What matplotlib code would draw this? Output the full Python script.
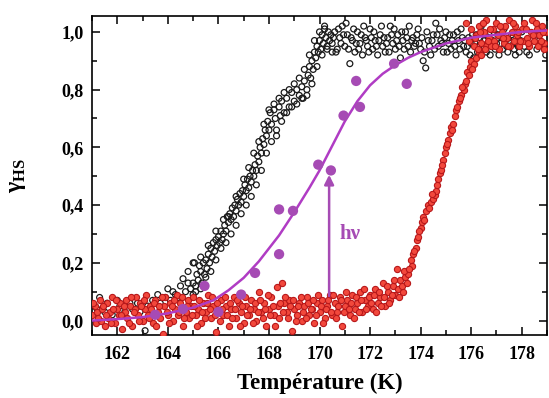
"""Spin-crossover fraction vs temperature with photo-excitation points."""
import matplotlib
matplotlib.use('Agg')
import matplotlib.pyplot as plt
from matplotlib.ticker import MultipleLocator, FuncFormatter

# black branch (open black circles), first sweep
black_T = [161.1, 161.2, 161.3, 161.5, 161.6, 161.8, 162.0, 162.1, 162.3, 162.5,
           162.6, 162.8, 162.9, 163.1, 163.2, 163.4, 163.6, 163.7, 163.9, 164.0,
           164.1, 164.2, 164.3, 164.4, 164.5, 164.6, 164.7, 164.8, 164.9, 165.0,
           165.0, 165.05, 165.1, 165.15, 165.2, 165.25, 165.3, 165.35, 165.4, 165.45,
           165.5, 165.55, 165.6, 165.65, 165.7, 165.75, 165.8, 165.85, 165.9, 165.95,
           166.0, 166.05, 166.1, 166.15, 166.2, 166.25, 166.3, 166.35, 166.4, 166.45,
           166.5, 166.55, 166.6, 166.65, 166.7, 166.75, 166.8, 166.85, 166.9, 166.95,
           167.0, 167.05, 167.1, 167.15, 167.2, 167.25, 167.3, 167.35, 167.4, 167.45,
           167.5, 167.55, 167.6, 167.65, 167.7, 167.75, 167.8, 167.85, 167.9, 167.95,
           168.0, 168.05, 168.1, 168.2, 168.25, 168.3, 168.4, 168.45, 168.5, 168.6,
           168.7, 168.8, 168.9, 169.0, 169.1, 169.2, 169.3, 169.35, 169.4, 169.5,
           169.55, 169.6, 169.65, 169.7, 169.75, 169.8, 169.85, 169.9, 169.95, 170.0,
           170.05, 170.1, 170.15, 170.2, 170.25, 170.3, 170.35, 170.4, 170.45,
           170.5, 170.6, 170.7, 170.8, 170.9, 171.0, 171.1, 171.2, 171.3, 171.4,
           171.5, 171.6, 171.7, 171.8, 171.9, 172.0, 172.1, 172.2, 172.3, 172.4,
           172.5, 172.6, 172.7, 172.8, 172.9, 173.0, 173.1, 173.2, 173.3, 173.4,
           173.5, 173.6, 173.7, 173.8, 173.9, 174.0, 174.1, 174.2, 174.3, 174.4,
           174.5, 174.6, 174.7, 174.8, 174.9, 175.0, 175.1, 175.2, 175.3, 175.4,
           175.5, 175.6, 175.7, 175.8, 175.9, 176.0, 176.1, 176.2, 176.3, 176.4,
           176.5, 176.6, 176.7, 176.8, 176.9, 177.0, 177.1, 177.2, 177.3, 177.4,
           177.5, 177.6, 177.7, 177.8, 177.9, 178.0, 178.2, 178.4, 178.5, 178.6,
           178.8, 178.9]
black_y = [0.05, 0.04, 0.08, 0.03, 0.06, 0.02, 0.07, 0.05, 0.03, 0.06,
           0.04, 0.06, 0.03, -0.035, 0.05, 0.07, 0.09, 0.06, 0.08, 0.11,
           0.07, 0.10, 0.09, 0.08, 0.12, 0.145, 0.10, 0.13, 0.11, 0.09,
           0.13, 0.20, 0.12, 0.16, 0.14, 0.19, 0.17, 0.13, 0.20, 0.16,
           0.21, 0.18, 0.23, 0.20, 0.25, 0.22, 0.27, 0.24, 0.28, 0.26,
           0.29, 0.27, 0.31, 0.28, 0.30, 0.33, 0.31, 0.36, 0.34, 0.37,
           0.35, 0.39, 0.36, 0.40, 0.38, 0.42, 0.40, 0.44, 0.41, 0.45,
           0.43, 0.47, 0.45, 0.49, 0.46, 0.50, 0.48, 0.52, 0.50, 0.54,
           0.52, 0.57, 0.55, 0.60, 0.58, 0.63, 0.61, 0.66, 0.64, 0.69,
           0.66, 0.72, 0.68, 0.73, 0.70, 0.66, 0.74, 0.71, 0.76, 0.72,
           0.77, 0.74, 0.79, 0.76, 0.80, 0.78, 0.81, 0.77, 0.83, 0.80,
           0.85, 0.88, 0.84, 0.90, 0.87, 0.93, 0.91, 0.95, 0.93, 0.97,
           0.94, 0.99, 0.96, 1.01, 0.98, 0.95, 1.00, 0.97, 0.99,
           0.96, 1.00, 0.94, 0.98, 1.02, 0.95, 0.99, 0.89, 0.97, 0.93,
           1.00, 0.96, 0.92, 0.98, 0.95, 1.01, 0.94, 0.97, 0.92, 0.99,
           0.95, 0.93, 0.98, 1.02, 0.96, 0.94, 0.99, 0.91, 0.97, 1.00,
           0.95, 0.93, 0.98, 0.96, 1.01, 0.94, 0.90, 0.875, 0.97, 0.92,
           0.99, 1.03, 0.95, 0.97, 0.93, 1.00, 0.96, 0.94, 0.99, 0.92,
           0.97, 1.01, 0.95, 0.93, 0.98, 0.96, 0.91, 0.99, 0.95, 1.02,
           0.97, 0.93, 0.98, 0.95, 1.00, 0.96, 0.92, 0.98, 1.01, 0.95,
           0.97, 0.99, 0.94, 0.96, 0.93, 1.00, 0.93, 0.97, 0.99, 0.94,
           0.96, 0.94]

# black branch, second sweep
black_T2 = [164.8, 165.0, 165.1, 165.3, 165.3, 165.5, 165.6, 165.7, 165.9, 165.9,
            166.1, 166.2, 166.3, 166.4, 166.5, 166.7, 166.7, 166.9, 167.0, 167.1,
            167.2, 167.3, 167.4, 167.5, 167.6, 167.7, 167.8, 167.9, 168.0, 168.1,
            168.2, 168.3, 168.4, 168.5, 168.6, 168.7, 168.8, 168.9, 169.0, 169.1,
            169.2, 169.3, 169.4, 169.5, 169.6, 169.7, 169.8, 169.9, 170.0, 170.1,
            170.2, 170.3, 170.5,
            170.55, 170.65, 170.75, 170.85, 170.95, 171.05, 171.15, 171.25, 171.35,
            171.45, 171.55, 171.65, 171.75, 171.85, 171.95, 172.05, 172.15, 172.25,
            172.35, 172.45, 172.55, 172.65, 172.75, 172.85, 172.95, 173.05, 173.15,
            173.25, 173.35, 173.45, 173.55, 173.65, 173.75, 173.85, 173.95, 174.05,
            174.15, 174.25, 174.35, 174.45, 174.55, 174.65, 174.75, 174.85, 174.95,
            175.05, 175.15, 175.25, 175.35, 175.45, 175.55, 175.65, 175.75, 175.85,
            175.95, 176.05, 176.15, 176.25, 176.35, 176.45, 176.55, 176.65, 176.75,
            176.85, 176.95, 177.05, 177.15, 177.25, 177.35, 177.45, 177.55, 177.65,
            177.75, 177.85, 177.95, 178.1, 178.3, 178.7, 178.95]
black_y2 = [0.17, 0.20, 0.10, 0.11, 0.22, 0.15, 0.26, 0.17, 0.21, 0.31,
            0.25, 0.35, 0.27, 0.36, 0.30, 0.33, 0.43, 0.37, 0.49, 0.40,
            0.53, 0.43, 0.58, 0.47, 0.62, 0.52, 0.68, 0.58, 0.73, 0.62,
            0.75, 0.64, 0.77, 0.69, 0.79, 0.72, 0.80, 0.74, 0.82, 0.75,
            0.84, 0.77, 0.87, 0.78, 0.92, 0.82, 0.97, 0.88, 1.00, 0.92,
            1.02, 0.94, 0.93,
            0.98, 0.93, 1.01, 0.96, 0.99, 1.03, 0.94, 0.98, 1.01,
            0.96, 0.94, 0.99, 1.02, 0.97, 0.93, 0.98, 1.00, 0.95,
            0.97, 1.02, 0.98, 0.96, 0.93, 0.99, 1.01, 0.97, 0.95,
            1.00, 0.94, 0.98, 1.02, 0.97, 0.95, 0.99, 0.96, 0.98,
            0.93, 1.00, 0.95, 0.97, 0.94, 0.99, 1.01, 0.96, 0.98,
            0.93, 0.99, 0.97, 0.95, 1.00, 0.94, 0.98, 0.97, 0.95,
            0.92, 0.99, 0.96, 0.93, 0.98, 0.95, 0.99, 0.96, 0.92,
            0.97, 0.94, 0.99, 0.96, 0.94, 0.97, 0.93, 0.96, 0.98,
            0.92, 0.95, 0.97, 0.95, 0.92, 0.97, 0.92]

# red branch (red circles), first sweep
red_T = [161.0, 161.1, 161.15, 161.2, 161.3, 161.35, 161.4, 161.5, 161.6, 161.65,
         161.7, 161.8, 161.9, 162.0, 162.05, 162.1, 162.2, 162.3, 162.35, 162.4,
         162.5, 162.6, 162.7, 162.75, 162.8, 162.9, 163.0, 163.1, 163.15, 163.2,
         163.3, 163.4, 163.5, 163.6, 163.7, 163.8, 163.85, 163.9, 164.0, 164.1,
         164.2, 164.3, 164.35, 164.4, 164.5, 164.6, 164.7, 164.8, 164.85, 164.9,
         165.0, 165.1, 165.2, 165.3, 165.4, 165.5, 165.6, 165.7, 165.8, 165.9,
         166.0, 166.1, 166.2, 166.3, 166.4, 166.5, 166.6, 166.7, 166.8, 166.9,
         167.0, 167.1, 167.2, 167.3, 167.4, 167.5, 167.6, 167.7, 167.8, 167.9,
         168.0, 168.1, 168.2, 168.3, 168.35, 168.4, 168.5, 168.6, 168.7, 168.8,
         168.9, 169.0, 169.1, 169.2, 169.3, 169.4, 169.5, 169.6, 169.7, 169.8,
         169.9, 170.0, 170.1, 170.2, 170.3, 170.4, 170.5, 170.6, 170.7, 170.8,
         170.9, 171.0, 171.1, 171.2, 171.3, 171.4, 171.5, 171.6, 171.7, 171.8,
         171.9, 172.0, 172.1, 172.2, 172.3, 172.4, 172.5, 172.6, 172.7, 172.8,
         172.9, 173.0, 173.05, 173.1, 173.2, 173.3, 173.4,
         173.5, 173.6, 173.65, 173.7, 173.8, 173.85, 173.9, 174.0, 174.05, 174.1,
         174.2, 174.3, 174.4, 174.5, 174.55, 174.6, 174.7, 174.75, 174.8, 174.9,
         174.95, 175.0, 175.1, 175.15, 175.2, 175.3, 175.35, 175.4, 175.5, 175.6,
         175.7, 175.75, 175.8, 175.85, 175.95, 176.0, 176.1, 176.2, 176.3, 176.4,
         176.6,
         175.8, 175.9, 176.0, 176.1, 176.2, 176.3, 176.4, 176.5, 176.55, 176.6,
         176.7, 176.8, 176.85, 176.9, 177.0, 177.05, 177.1, 177.2, 177.3, 177.35,
         177.4, 177.5, 177.55, 177.6, 177.7, 177.75, 177.8, 177.9, 178.0, 178.05,
         178.1, 178.2, 178.3, 178.35, 178.4, 178.5, 178.6, 178.65, 178.7, 178.8,
         178.9, 178.95]
red_y = [0.02, 0.05, -0.01, 0.03, 0.07, 0.00, 0.04, -0.02, 0.06, 0.01,
         0.03, 0.08, -0.01, 0.04, 0.02, 0.06, -0.03, 0.03, 0.07, 0.01,
         0.05, -0.02, 0.04, 0.08, 0.02, 0.06, 0.00, 0.04, 0.09, 0.02,
         0.05, -0.01, 0.07, 0.03, 0.01, -0.045, 0.05, 0.08, 0.02, 0.06,
         0.00, 0.04, 0.09, 0.02, 0.06, -0.02, 0.03, 0.07, 0.01, 0.05,
         0.08, 0.02, 0.04, -0.01, 0.06, 0.03, 0.09, 0.01, 0.05, -0.04,
         0.03, 0.07, 0.02, 0.05, -0.02, 0.04, 0.08, 0.01, 0.06, 0.03,
         -0.01, 0.05, 0.02, 0.07, 0.04, 0.00, 0.10, 0.03, 0.06, -0.02,
         0.04, 0.08, 0.02, 0.115, 0.05, 0.01, 0.13, 0.06, 0.03, 0.07,
         -0.035, 0.04, 0.02, 0.06, 0.00, 0.05, 0.08, 0.02, 0.04, -0.01,
         0.06, 0.03, 0.07, 0.01, 0.05, 0.09, 0.02, 0.06, 0.03, 0.08,
         -0.02, 0.05, 0.07, 0.02, 0.09, 0.04, 0.06, 0.10, 0.03, 0.07,
         0.05, 0.09, 0.04, 0.11, 0.06, 0.08, 0.13, 0.05, 0.10, 0.07,
         0.12, 0.09, 0.18, 0.11, 0.14, 0.10, 0.15,
         0.16, 0.21, 0.19, 0.23, 0.25, 0.28, 0.29, 0.32, 0.34, 0.36,
         0.38, 0.40, 0.41, 0.42, 0.435, 0.45, 0.49, 0.51, 0.52, 0.555,
         0.58, 0.60, 0.625, 0.65, 0.67, 0.68, 0.71, 0.73, 0.76, 0.78,
         0.80, 0.82, 0.83, 0.86, 0.88, 0.90, 0.89, 0.91, 0.93, 0.92,
         0.95,
         1.03, 0.97, 1.01, 0.95, 0.99, 1.02, 0.96, 1.00, 0.94, 1.04,
         0.98, 0.95, 1.01, 0.97, 1.03, 0.99, 0.94, 1.00, 0.96, 1.02,
         0.98, 1.04, 0.95, 1.00, 0.97, 1.02, 0.99, 0.95, 1.01, 0.97,
         1.03, 0.98, 0.95, 1.00, 1.04, 0.97, 1.01, 0.95, 0.99, 1.02,
         0.96, 1.00]

# red branch, second sweep
red_T2 = [161.05, 161.25, 161.45, 161.55, 161.75, 161.85, 161.95, 162.15, 162.25,
          162.45, 162.55, 162.65, 162.85, 162.95, 163.05, 163.25, 163.35, 163.45,
          163.55, 163.65, 163.75, 163.95, 164.05, 164.15, 164.25, 164.45, 164.55,
          164.65, 164.75, 164.95, 165.05, 165.15, 165.25, 165.35, 165.45, 165.55,
          165.65, 165.75, 165.85, 165.95, 166.05, 166.15, 166.25, 166.35, 166.45,
          166.55, 166.65, 166.75, 166.85, 166.95, 167.05, 167.15, 167.25, 167.35,
          167.45, 167.55, 167.65, 167.75, 167.85, 167.95, 168.05, 168.15, 168.25,
          168.45, 168.55, 168.65, 168.75, 168.85, 168.95, 169.05, 169.15, 169.25,
          169.35, 169.45, 169.55, 169.65, 169.75, 169.85, 169.95, 170.05, 170.15,
          170.25, 170.35, 170.45, 170.55, 170.65, 170.75, 170.85, 170.95, 171.05,
          171.15, 171.25, 171.35, 171.45, 171.55, 171.65, 171.75, 171.85, 171.95,
          172.05, 172.15, 172.25, 172.35, 172.45, 172.55, 172.65, 172.75, 172.85,
          172.95, 173.15, 173.25, 173.35, 173.45,
          173.55, 173.75, 173.95, 174.15, 174.35, 174.45, 174.65, 174.85, 175.05,
          175.25, 175.45, 175.55, 175.65, 175.9, 176.05,
          176.15, 176.25, 176.35, 176.45, 176.65, 176.75, 176.95, 177.15, 177.25,
          177.45, 177.65, 177.85, 177.95, 178.15, 178.25, 178.45, 178.55, 178.75,
          178.85, 178.9]
red_y2 = [0.06, 0.01, 0.05, 0.02, -0.01, 0.04, 0.07, 0.02, 0.05,
          -0.01, 0.08, 0.03, 0.00, 0.05, 0.07, 0.01, 0.04, 0.06,
          -0.02, 0.05, 0.08, 0.03, -0.01, 0.05, 0.07, 0.03, 0.08,
          0.01, 0.05, 0.02, 0.05, -0.02, 0.07, 0.03, 0.01, 0.06,
          0.04, 0.08, 0.02, 0.06, 0.00, 0.04, 0.08, 0.02, 0.06,
          0.01, 0.04, 0.07, -0.02, 0.05, 0.08, 0.02, 0.04, -0.01,
          0.06, 0.03, 0.07, 0.01, 0.04, 0.09, 0.02, 0.05, -0.02,
          0.06, 0.03, 0.08, 0.01, 0.05, 0.07, 0.00, 0.05, 0.08,
          0.03, 0.01, 0.06, 0.04, 0.07, 0.02, 0.09, 0.05, -0.01,
          0.04, 0.07, 0.03, 0.09, 0.01, 0.05, 0.07, 0.03, 0.10,
          0.04, 0.06, 0.01, 0.08, 0.03, 0.07, 0.11, 0.04, 0.08,
          0.06, 0.09, 0.03, 0.10, 0.05, 0.08, 0.12, 0.06, 0.09,
          0.14, 0.08, 0.12, 0.17, 0.13,
          0.18, 0.24, 0.31, 0.35, 0.39, 0.44, 0.47, 0.54, 0.61,
          0.66, 0.74, 0.77, 0.81, 0.85, 0.87,
          0.98, 0.94, 1.00, 1.03, 0.97, 1.01, 0.95, 1.02, 0.98,
          0.95, 1.03, 1.00, 0.97, 1.01, 0.96, 0.99, 1.03, 0.97,
          1.00, 0.94]

# photo-excited points (filled purple) and their fit
photo_T = [163.5, 164.6, 165.45, 166.0, 166.9, 167.45, 168.4, 168.4, 168.95,
           169.95, 170.45, 170.95, 171.45, 171.6, 172.95, 173.45]
photo_y = [0.02, 0.04, 0.12, 0.03, 0.09, 0.165, 0.23, 0.385, 0.38,
           0.54, 0.52, 0.71, 0.83, 0.74, 0.89, 0.82]
fit_T = [161.0, 162.0, 163.0, 164.0, 165.0, 165.8, 166.4, 167.0, 167.6, 168.4,
         169.0, 169.6, 170.0, 170.5, 171.0, 171.5, 172.0, 172.5, 173.0, 173.5,
         174.0, 175.0, 176.0, 177.0, 178.0, 179.0]
fit_y = [0.0, 0.005, 0.012, 0.025, 0.045, 0.07, 0.105, 0.148, 0.205, 0.295,
         0.375, 0.46, 0.52, 0.605, 0.69, 0.76, 0.815, 0.855, 0.885, 0.91,
         0.93, 0.96, 0.98, 0.99, 1.0, 1.005]

xticks = [162, 164, 166, 168, 170, 172, 174, 176, 178]
yticks = [0.0, 0.2, 0.4, 0.6, 0.8, 1.0]

plt.rcParams['font.family'] = 'Liberation Serif'
plt.rcParams['font.weight'] = 'bold'
plt.rcParams['mathtext.fontset'] = 'custom'
plt.rcParams['mathtext.rm'] = 'Liberation Serif:bold'

purple = '#a64bb4'

fig = plt.figure(figsize=(5.49, 3.98), dpi=100)
ax = fig.add_axes([0.1676, 0.1583, 0.8288, 0.8015])

black_kw = dict(s=18, facecolors='none', edgecolors='#1a1a1a',
                linewidths=0.9, zorder=2)
ax.scatter(black_T, black_y, **black_kw)
ax.scatter(black_T2, black_y2, **black_kw)
red_kw = dict(s=20, facecolors='#f2483c', edgecolors='#b8181a',
              linewidths=0.8, zorder=3)
ax.scatter(red_T, red_y, **red_kw)
ax.scatter(red_T2, red_y2, **red_kw)
ax.plot(fit_T, fit_y, color='#b03cc4', lw=1.8, zorder=4)
ax.scatter(photo_T, photo_y, s=55, color=purple, edgecolors='none', zorder=5)

# light-induced jump
ax.annotate('', xy=(170.38, 0.505), xytext=(170.38, 0.085),
            arrowprops=dict(arrowstyle='-|>', color=purple, lw=1.8,
                            mutation_scale=14, shrinkA=0, shrinkB=0),
            zorder=6)
ax.text(170.8, 0.30, 'h\u03bd', color=purple, fontsize=15,
        fontweight='bold', va='center', ha='left')

ax.set_xlim(161, 179)
ax.set_ylim(-0.05, 1.055)
ax.set_xticks(xticks)
ax.set_yticks(yticks)
ax.xaxis.set_minor_locator(MultipleLocator(1))
ax.yaxis.set_minor_locator(MultipleLocator(0.1))
ax.yaxis.set_major_formatter(
    FuncFormatter(lambda v, p: '{:.1f}'.format(v).replace('.', ',')))
ax.tick_params(which='both', direction='in', top=True, right=True,
               labelsize=13, width=1.1)
ax.tick_params(which='major', length=6)
ax.tick_params(which='minor', length=3.5)
ax.tick_params(axis='x', pad=8)
ax.tick_params(axis='y', pad=6)
for sp in ax.spines.values():
    sp.set_linewidth(1.2)

ax.set_xlabel('Température (K)', fontsize=16.5, fontweight='bold')
ax.xaxis.set_label_coords(0.5, -0.12)
ax.set_ylabel('\u03b3$_{\\mathrm{HS}}$', fontsize=17, fontweight='bold',
              rotation=90)
ax.yaxis.set_label_coords(-0.14, 0.5)

fig.savefig('out.png', dpi=100)
